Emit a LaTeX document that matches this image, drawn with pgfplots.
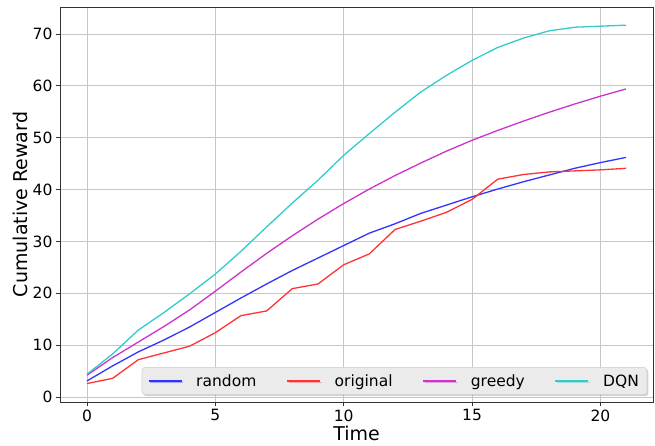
\documentclass[border=0pt]{standalone}
\usepackage{pgfplots}
\pgfplotsset{compat=1.18}
\usepackage{fontspec}
\setmainfont{DejaVu Sans}
\usetikzlibrary{shadows}
\definecolor{cRand}{HTML}{3333FF}
\definecolor{cOrig}{HTML}{FF3333}
\definecolor{cGreedy}{HTML}{CC33CC}
\definecolor{cDQN}{HTML}{33CCCC}
\begin{document}
\begin{tikzpicture}
\path[use as bounding box] (-60pt,-43pt) rectangle (595pt,402pt);
\begin{axis}[
  at={(0pt,0pt)}, anchor=south west,
  width=593pt, height=395pt, scale only axis,
  xmin=-1.05, xmax=22.05, ymin=-0.96, ymax=75.2,
  xtick={0,5,10,15,20}, ytick={0,10,20,30,40,50,60,70},
  /pgf/number format/assume math mode=true,
  tick label style={font=\fontsize{15.5}{18}\selectfont},
  xlabel={Time}, ylabel={Cumulative Reward},
  every axis x label/.style={at={(axis description cs:0.5,0)}, anchor=center, yshift=-31pt, font=\fontsize{19}{22}\selectfont},
  every axis y label/.style={at={(axis description cs:-0.0675,0.5)}, anchor=center, rotate=90, font=\fontsize{19}{22}\selectfont},
  grid=major,
  major grid style={draw=black!22, line width=0.8pt},
  axis line style={draw=black!80, line width=0.9pt},
  tick style={draw=black!80, line width=0.8pt},
  major tick length=4pt,
  tick align=outside, xtick pos=bottom, ytick pos=left,
  every axis plot/.append style={line width=1.3pt},
  legend columns=4,
  legend style={at={(0.99,0.018)}, anchor=south east,
    fill=black!8, draw=black!20, rounded corners=3pt,
    drop shadow={shadow xshift=1.5pt, shadow yshift=-1.5pt, opacity=0.35},
    font=\fontsize{15.5}{18}\selectfont,
    /tikz/every odd column/.append style={column sep=12pt},
    /tikz/every even column/.append style={column sep=28pt},
    inner xsep=6pt, inner ysep=5pt},
  legend cell align=left,
  legend image code/.code={\draw[#1, line width=1.3pt] (0pt,0pt) -- (33pt,0pt);},
]
\addplot[cRand] coordinates {
(0,3.1)(1,6.0)(2,8.7)(3,11.0)(4,13.5)(5,16.3)(6,19.1)(7,21.8)(8,24.4)(9,26.8)(10,29.2)(11,31.6)(12,33.4)(13,35.4)(14,37.0)(15,38.6)(16,40.1)(17,41.5)(18,42.8)(19,44.1)(20,45.2)(21,46.2)};
\addlegendentry{random}
\addplot[cOrig] coordinates {
(0,2.6)(1,3.6)(2,7.2)(3,8.5)(4,9.8)(5,12.4)(6,15.7)(7,16.6)(8,20.9)(9,21.8)(10,25.5)(11,27.6)(12,32.3)(13,33.9)(14,35.6)(15,38.1)(16,42.0)(17,42.9)(18,43.4)(19,43.6)(20,43.8)(21,44.1)};
\addlegendentry{original}
\addplot[cGreedy] coordinates {
(0,4.2)(1,7.6)(2,10.6)(3,13.6)(4,16.8)(5,20.4)(6,24.1)(7,27.7)(8,31.1)(9,34.3)(10,37.3)(11,40.1)(12,42.7)(13,45.1)(14,47.4)(15,49.5)(16,51.4)(17,53.2)(18,54.9)(19,56.5)(20,58.0)(21,59.4)};
\addlegendentry{greedy}
\addplot[cDQN] coordinates {
(0,4.4)(1,8.3)(2,12.9)(3,16.3)(4,19.9)(5,23.7)(6,28.1)(7,32.8)(8,37.4)(9,41.8)(10,46.6)(11,50.8)(12,54.9)(13,58.8)(14,62.0)(15,64.9)(16,67.4)(17,69.2)(18,70.6)(19,71.3)(20,71.5)(21,71.7)};
\addlegendentry{DQN}
\end{axis}
\end{tikzpicture}
\end{document}
